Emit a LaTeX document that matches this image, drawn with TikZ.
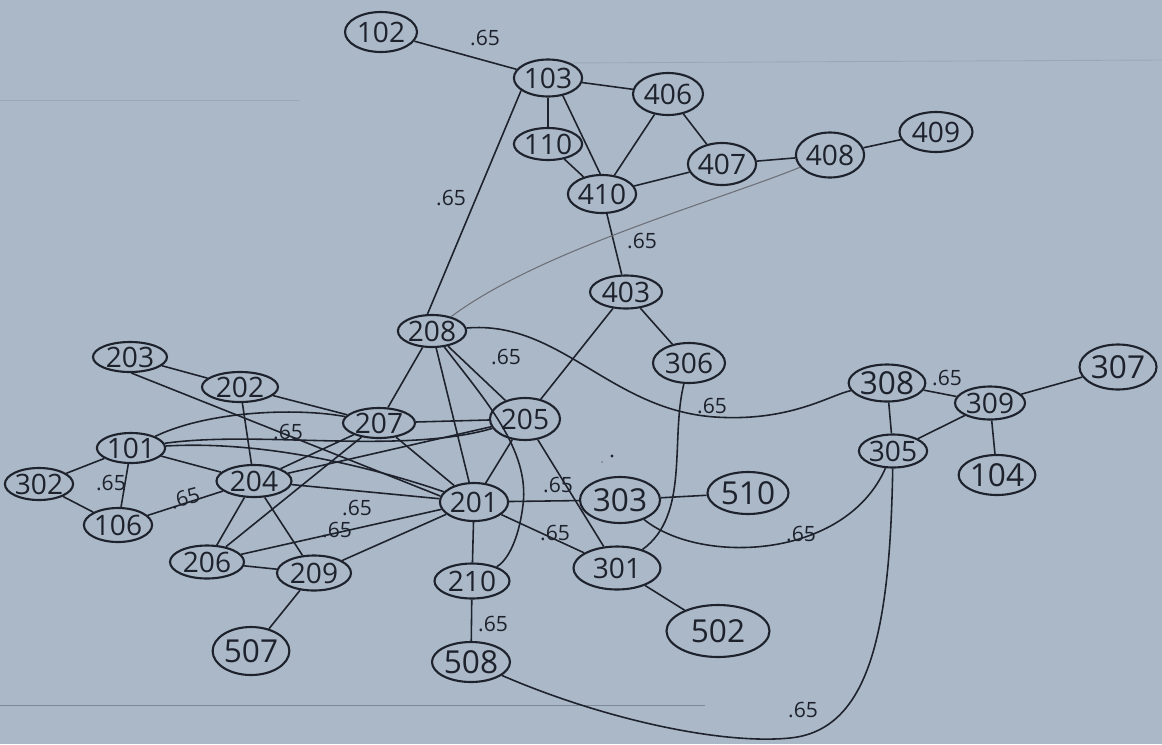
\documentclass[tikz,border=0pt]{standalone}
\usepackage{fontspec}
\setmainfont{Open Sans}
\usetikzlibrary{shapes.geometric}
\definecolor{paper}{RGB}{170,184,200}
\definecolor{ink}{RGB}{30,34,44}
\definecolor{rulecol}{RGB}{125,136,150}

\begin{document}
\begin{tikzpicture}[x=0.02cm,y=-0.02cm,
  vtx/.style={ellipse, draw=ink, line width=1.2pt, inner sep=0pt, text=ink,
    font=\fontsize{16}{18}\selectfont},
  big/.style={font=\fontsize{18}{20}\selectfont},
  sz/.style 2 args={minimum width=#1*0.02cm, minimum height=#2*0.02cm},
  ln/.style={draw=ink, line width=0.9pt},
  faint/.style={draw=ink!65, line width=0.6pt},
  wt/.style={text=ink, inner sep=0pt, font=\fontsize{12}{13}\selectfont},
  paperline/.style={draw=rulecol, line width=0.5pt}
]
\useasboundingbox (0,0) rectangle (1162,744);
\fill[paper] (0,0) rectangle (1162,744);

% ruled lines of the sheet
\draw[paperline, opacity=0.35] (0,100) -- (300,100);
\draw[paperline, opacity=0.35] (565,63) -- (1162,60);
\draw[paperline] (0,705) -- (705,705);
\fill[ink] (612,456) circle (1.6);
\fill[ink!60] (602,462) circle (1);

% vertices
\node[vtx,sz={72}{40}] (n102) at (381,32) {102};
\node[vtx,sz={65}{37}] (n103) at (548,78) {103};
\node[vtx,sz={70}{42}] (n406) at (668,94) {406};
\node[vtx,sz={57}{32}] (n110) at (548,144) {110};
\node[vtx,sz={65}{38}] (n410) at (602,194) {410};
\node[vtx,sz={68}{42}] (n407) at (722,164) {407};
\node[vtx,sz={67}{45}] (n408) at (830,155) {408};
\node[vtx,sz={73}{40}] (n409) at (936,132) {409};
\node[vtx,sz={72}{33}] (n403) at (626,292) {403};
\node[vtx,sz={66}{32}] (n208) at (432,331) {208};
\node[vtx,sz={72}{40}] (n306) at (689,363) {306};
\node[vtx,sz={74}{30}] (n203) at (130,357) {203};
\node[vtx,sz={76}{30}] (n202) at (240,387) {202};
\node[vtx,sz={72}{30}] (n207) at (379,423) {207};
\node[vtx,sz={70}{42}] (n205) at (525,419) {205};
\node[vtx,sz={56}{30}] (n101) at (131,448) {101};
\node[vtx,sz={62}{32}] (n302) at (39,484) {302};
\node[vtx,sz={75}{32}] (n204) at (254,481) {204};
\node[vtx,sz={67}{34}] (n106) at (118,525) {106};
\node[vtx,sz={68}{38}] (n201) at (474,502) {201};
\node[vtx,big,sz={80}{46}] (n303) at (620,500) {303};
\node[vtx,big,sz={81}{42}] (n510) at (748,493) {510};
\node[vtx,sz={74}{33}] (n206) at (207,562) {206};
\node[vtx,sz={74}{35}] (n209) at (314,573) {209};
\node[vtx,sz={75}{35}] (n210) at (472,581) {210};
\node[vtx,sz={87}{43}] (n301) at (617,568) {301};
\node[vtx,big,sz={73}{48}] (n507) at (251,651) {507};
\node[vtx,big,sz={103}{52}] (n502) at (718,631) {502};
\node[vtx,big,sz={78}{40}] (n508) at (471,662) {508};
\node[vtx,big,sz={70}{37}] (n308) at (887,383) {308};
\node[vtx,sz={70}{33}] (n309) at (990,403) {309};
\node[vtx,big,sz={77}{45}] (n307) at (1118,367) {307};
\node[vtx,sz={60}{33}] (n305) at (893,451) {305};
\node[vtx,big,sz={71}{40}] (n104) at (997,475) {104};

% straight connectors
\foreach \a/\b in {102/103, 103/406, 103/110, 110/410,
    406/410, 406/407, 407/410, 407/408, 408/409, 410/403, 403/205, 403/306,
    208/207, 208/201, 208/205, 203/202, 202/207, 202/204,
    207/205, 207/201, 207/204, 207/206, 101/204, 101/302, 101/106,
    302/106, 106/204, 204/205, 204/201, 204/206, 204/209, 206/201,
    206/209, 209/201, 209/507, 205/201, 205/301, 201/303, 201/301,
    201/210, 210/508, 303/510, 301/502, 308/305, 308/309, 309/305,
    309/307, 309/104}
  \draw[ln] (n\a) -- (n\b);
\draw[ln] (n103.-50) -- (n410.95);
\draw[ln] (n103.205) -- (n208.105);
\draw[ln] (n203.-85) -- (n201.170);

% curved connectors
\draw[faint] (n408) .. controls (720,200) and (540,250) .. (n208);
\draw[ln] (n208) .. controls (560,320) and (610,410) .. (715,417)
  .. controls (790,422) and (830,395) .. (n308);
\draw[ln] (n208) .. controls (485,400) and (530,450) .. (523,505)
  .. controls (518,545) and (505,562) .. (n210);
\draw[ln] (n306) .. controls (670,440) and (690,515) .. (n301);
\draw[ln] (n303) .. controls (700,565) and (845,560) .. (n305);
\draw[ln] (n508) .. controls (600,718) and (720,745) .. (790,738)
  .. controls (870,730) and (890,630) .. (n305);
\draw[ln] (n101) .. controls (210,410) and (300,408) .. (n207);
\draw[ln] (n101) .. controls (260,430) and (400,455) .. (n205);
\draw[ln] (n101) .. controls (270,440) and (380,470) .. (n201);

% weights
\node[wt] (w1) at (485,38) {.65};
\node[wt] (w2) at (451,198) {.65};
\node[wt] (w3) at (642,241) {.65};
\node[wt] (w4) at (506,357) {.65};
\node[wt] (w5) at (712,406) {.65};
\node[wt] (w6) at (947,378) {.65};
\node[wt] (w7) at (111,483) {.65};
\node[wt,rotate=15] (w8) at (185,498) {.65};
\node[wt] (w9) at (288,432) {.65};
\node[wt] (w10) at (357,508) {.65};
\node[wt] (w11) at (337,530) {.65};
\node[wt] (w12) at (558,485) {.65};
\node[wt] (w13) at (555,533) {.65};
\node[wt] (w14) at (493,624) {.65};
\node[wt] (w15) at (801,534) {.65};
\node[wt] (w16) at (803,710) {.65};
\end{tikzpicture}
\end{document}
